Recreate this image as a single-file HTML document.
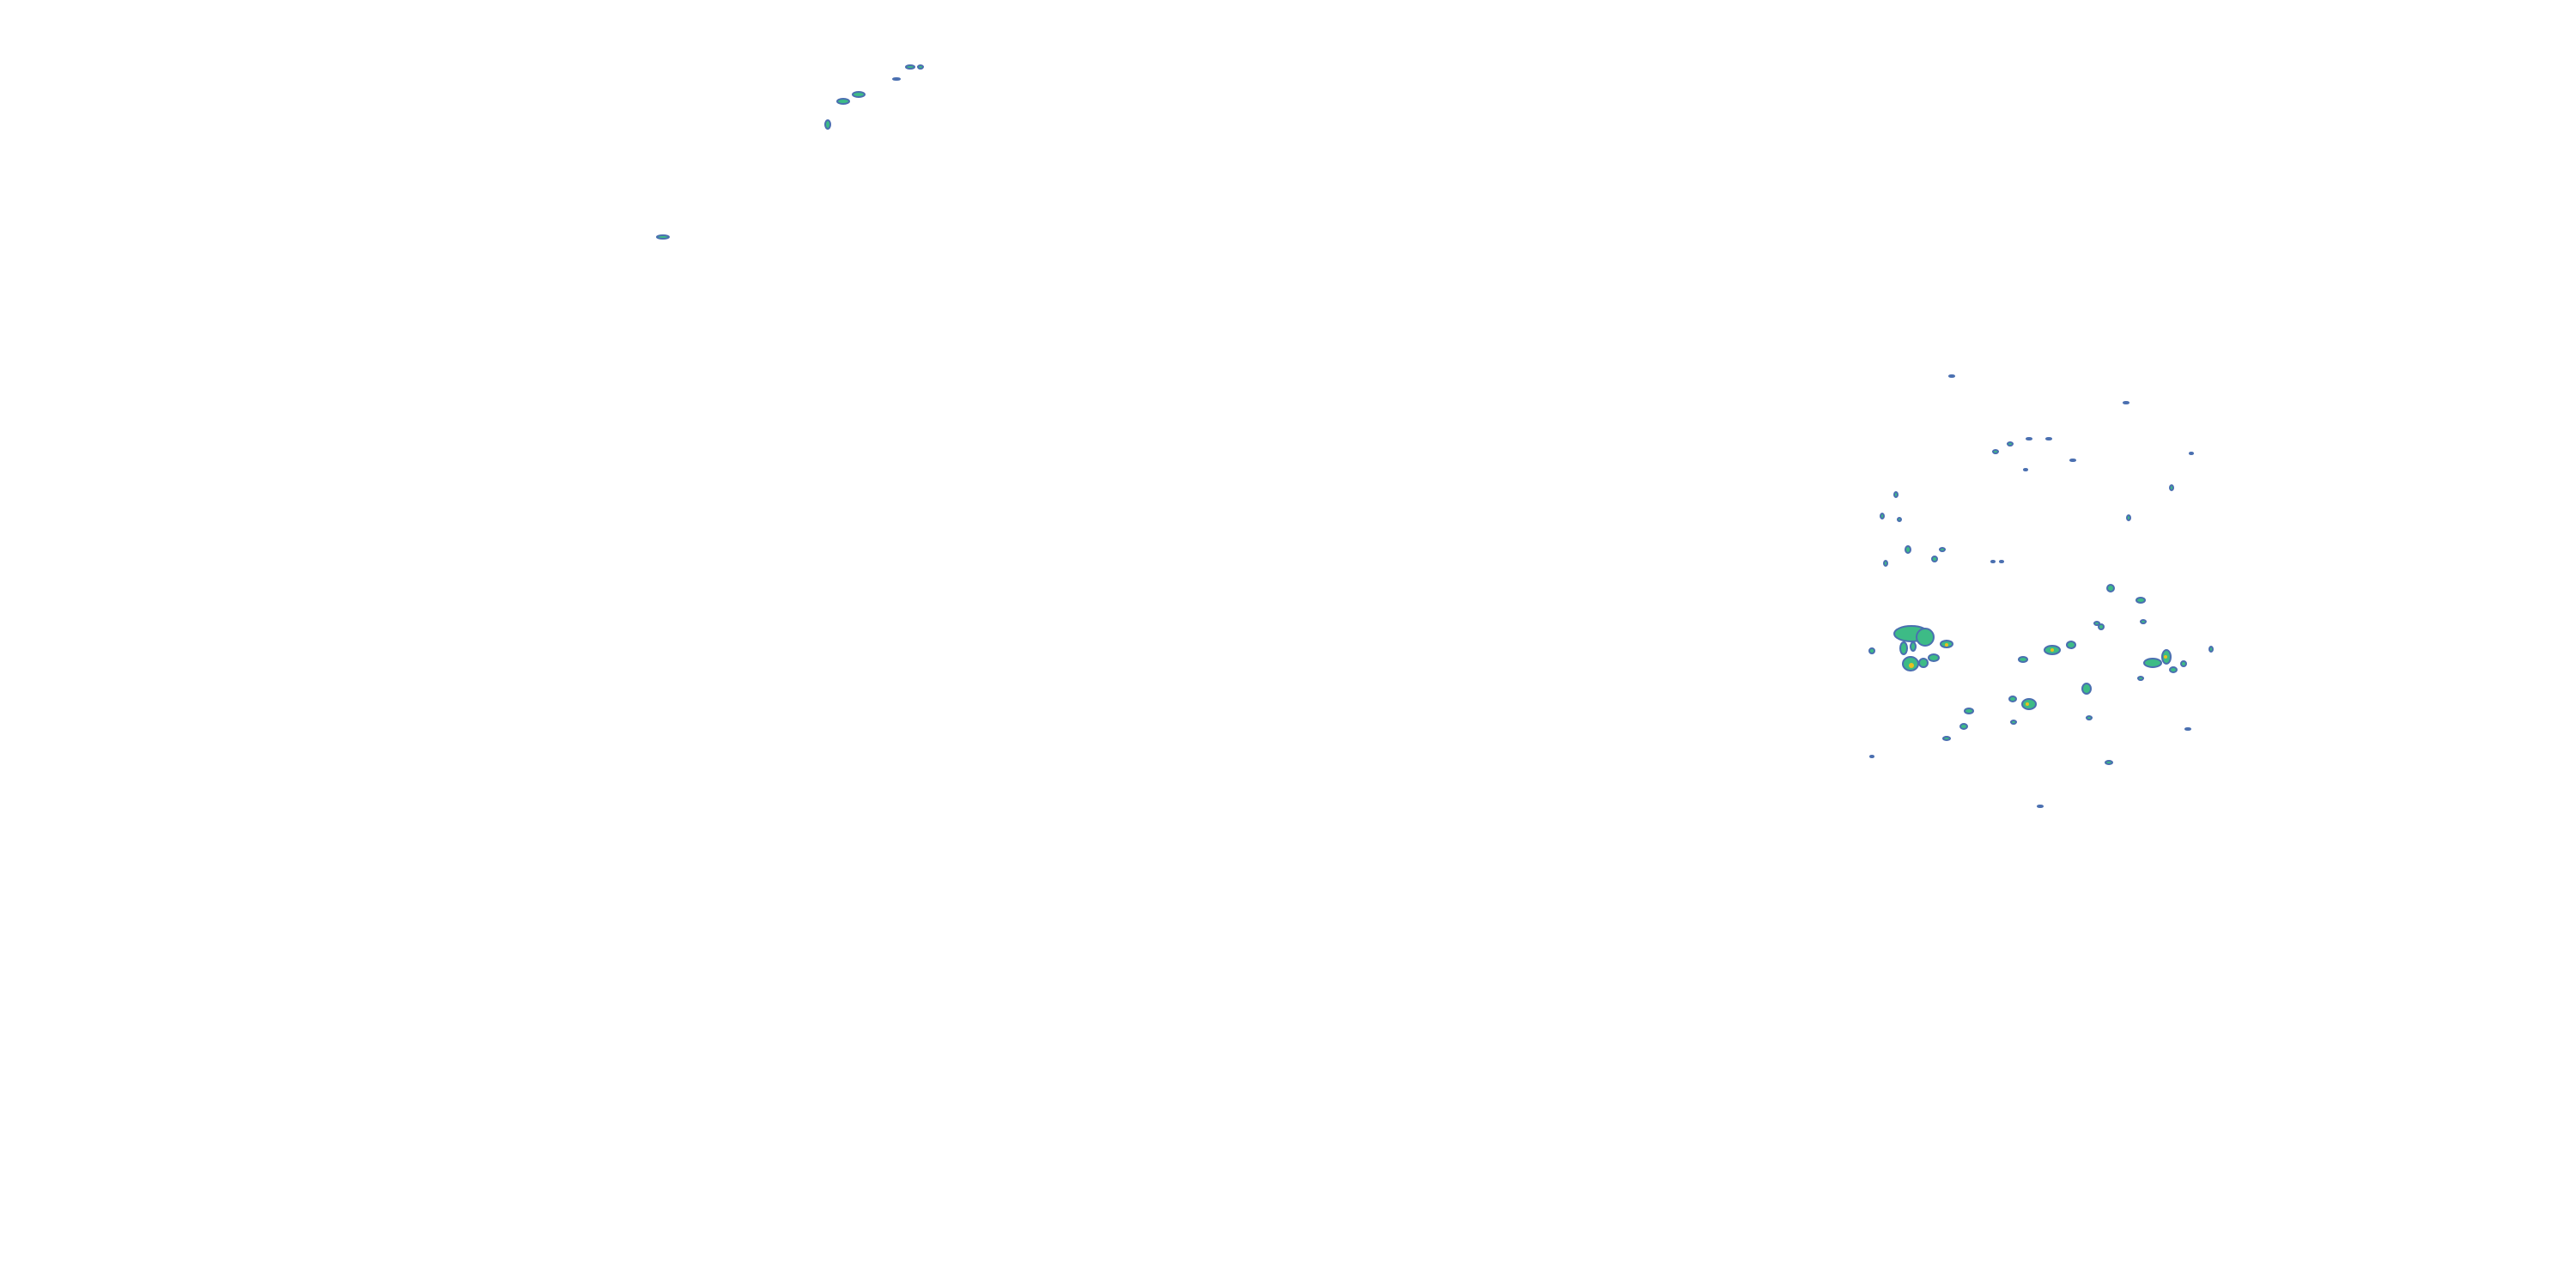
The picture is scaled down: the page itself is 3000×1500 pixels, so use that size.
<!DOCTYPE html>
<html><head><meta charset="utf-8"><style>html,body{margin:0;padding:0;background:#fff;width:3000px;height:1500px;overflow:hidden}</style></head>
<body>
<svg width="3000" height="1500" xmlns="http://www.w3.org/2000/svg">
<g stroke="#4a6fb0" stroke-width="2" fill="#3dbb86">
<ellipse cx="2226" cy="738" rx="20" ry="9"/>
<ellipse cx="2242" cy="742" rx="10" ry="10"/>
<ellipse cx="2225" cy="773" rx="9" ry="8"/>
<ellipse cx="2217" cy="755" rx="4" ry="7"/>
<ellipse cx="2228" cy="753" rx="3" ry="5"/>
<ellipse cx="2240" cy="772" rx="5" ry="5"/>
<ellipse cx="2252" cy="766" rx="6" ry="4"/>
<ellipse cx="2267" cy="750" rx="7" ry="4"/>
<ellipse cx="2390" cy="757" rx="9" ry="5"/>
<ellipse cx="2356" cy="768" rx="5" ry="3"/>
<ellipse cx="2412" cy="751" rx="5" ry="4"/>
<ellipse cx="2507" cy="772" rx="10" ry="5"/>
<ellipse cx="2523" cy="765" rx="5" ry="8"/>
<ellipse cx="2430" cy="802" rx="5" ry="6"/>
<ellipse cx="2363" cy="820" rx="8" ry="6"/>
<ellipse cx="2344" cy="814" rx="4" ry="3"/>
<ellipse cx="2293" cy="828" rx="5" ry="3"/>
<ellipse cx="2287" cy="846" rx="4" ry="3"/>
<ellipse cx="2493" cy="699" rx="5" ry="3"/>
<ellipse cx="2458" cy="685" rx="4" ry="4"/>
<ellipse cx="2222" cy="640" rx="3" ry="4"/>
<ellipse cx="2262" cy="640" rx="3" ry="2"/>
<ellipse cx="2447" cy="730" rx="3" ry="3"/>
<ellipse cx="2496" cy="724" rx="3" ry="2"/>
<ellipse cx="2442" cy="726" rx="3" ry="2"/>
<ellipse cx="2345" cy="841" rx="3" ry="2"/>
<ellipse cx="2433" cy="836" rx="3" ry="2"/>
<ellipse cx="2456" cy="888" rx="4" ry="2"/>
<ellipse cx="2543" cy="773" rx="3" ry="3"/>
<ellipse cx="2531" cy="780" rx="4" ry="3"/>
<ellipse cx="2493" cy="790" rx="3" ry="2"/>
<ellipse cx="2180" cy="758" rx="3" ry="3"/>
<ellipse cx="2180" cy="881" rx="2" ry="1"/>
<ellipse cx="2267" cy="860" rx="4" ry="2"/>
<ellipse cx="2273" cy="438" rx="3" ry="1"/>
<ellipse cx="2476" cy="469" rx="3" ry="1"/>
<ellipse cx="2324" cy="526" rx="3" ry="2"/>
<ellipse cx="2341" cy="517" rx="3" ry="2"/>
<ellipse cx="2363" cy="511" rx="3" ry="1"/>
<ellipse cx="2386" cy="511" rx="3" ry="1"/>
<ellipse cx="2414" cy="536" rx="3" ry="1"/>
<ellipse cx="2359" cy="547" rx="2" ry="1"/>
<ellipse cx="2552" cy="528" rx="2" ry="1"/>
<ellipse cx="2529" cy="568" rx="2" ry="3"/>
<ellipse cx="2479" cy="603" rx="2" ry="3"/>
<ellipse cx="2208" cy="576" rx="2" ry="3"/>
<ellipse cx="2192" cy="601" rx="2" ry="3"/>
<ellipse cx="2212" cy="605" rx="2" ry="2"/>
<ellipse cx="2196" cy="656" rx="2" ry="3"/>
<ellipse cx="2253" cy="651" rx="3" ry="3"/>
<ellipse cx="2321" cy="654" rx="2" ry="1"/>
<ellipse cx="2331" cy="654" rx="2" ry="1"/>
<ellipse cx="2376" cy="939" rx="3" ry="1"/>
<ellipse cx="2548" cy="849" rx="3" ry="1"/>
<ellipse cx="2575" cy="756" rx="2" ry="3"/>
<ellipse cx="982" cy="118" rx="7" ry="3"/>
<ellipse cx="1000" cy="110" rx="7" ry="3"/>
<ellipse cx="964" cy="145" rx="3" ry="5"/>
<ellipse cx="1060" cy="78" rx="5" ry="2"/>
<ellipse cx="1072" cy="78" rx="3" ry="2"/>
<ellipse cx="1044" cy="92" rx="4" ry="1"/>
<ellipse cx="772" cy="276" rx="7" ry="2"/>
</g>
<g fill="#e8c020">
<circle cx="2226" cy="775" r="3"/><circle cx="2390" cy="757" r="2"/><circle cx="2522" cy="765" r="2"/><circle cx="2361" cy="820" r="2"/><circle cx="2267" cy="751" r="2"/>
</g>
</svg>
</body></html>
